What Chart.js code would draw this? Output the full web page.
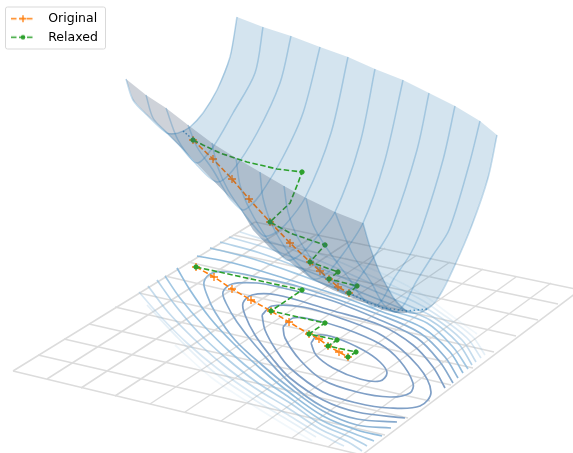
<!DOCTYPE html>
<html>
<head>
<meta charset="utf-8">
<title>Original vs Relaxed</title>
<script src="https://cdn.jsdelivr.net/npm/chart.js@4"></script>
<style>
  html, body { margin: 0; padding: 0; background: #fff; }
  canvas { display: block; }
</style>
</head>
<body>
<canvas id="myChart" width="573" height="453"></canvas>
<script>
var legendLabels = ["Original", "Relaxed"];

// floor grid: four edges, with matching indexes on opposite sides
var floorLeft = [[13,371],[38,355],[64,339],[89,324],[115,307],[139,293],[165,276],[188,262],[210,248],[233,235],[255,222]];
var floorRight = [[362,455],[385,435],[408,418],[430,401],[451,385],[473,368],[494,352],[516,336],[538,320],[558,304],[580,290]];
var floorFront = [[13,371],[47,379],[81,388],[115,396],[150,404],[185,412],[221,421],[256,429],[292,438],[328,447],[362,455]];
var floorBack = [[255,222],[285,228],[317,234],[350,241],[385,248],[417,255],[450,262],[483,269],[516,277],[551,283],[580,290]];

// closed rings around the minimum
var ring1 = [[311,343],[316,355],[333,368],[360,379],[380,381],[387,373],[380,362],[363,350],[336,338],[318,335],[311,343]];
var ring2 = [[283,327],[285,338],[300,360],[323,380],[357,392],[390,397],[410,393],[413,383],[400,361],[380,344],[343,328],[310,319],[293,318],[283,327]];
var ring3 = [[262,315],[265,330],[276,350],[290,368],[323,392],[357,403],[390,408],[420,406],[431,392],[418,366],[383,336],[340,318],[303,307],[272,306],[262,315]];

// outer rings are cut by the floor edges
var ring4 = [[405,418],[357,412],[323,400],[290,378],[272,358],[255,335],[245,315],[243,303],[252,295],[277,295],[330,310],[380,325],[413,345],[433,367],[445,388]];
var ring5 = [[397,422],[357,419],[323,407],[290,383],[255,345],[237,322],[226,303],[223,292],[232,284],[257,283],[283,288],[330,300],[380,320],[417,338],[440,362],[453,383]];
var ring6 = [[391,428],[357,425],[323,411],[290,388],[262,365],[235,340],[215,312],[207,295],[204,282],[212,273],[230,272],[257,277],[300,287],[380,315],[420,333],[445,357],[458,378]];
var ring7Low = [[177,268],[190,290],[210,318],[233,343],[262,370],[290,393],[323,416],[357,430],[382,436]];
var ring7Up = [[197,256],[233,263],[290,280],[340,296],[380,311],[423,328],[450,352],[463,373]];
var ring8Low = [[165,276],[180,298],[203,325],[230,352],[260,377],[290,398],[323,421],[355,434],[374,441]];
var ring8Up = [[210,248],[250,258],[300,275],[345,292],[390,310],[427,323],[453,347],[468,369]];
var ring9Low = [[157,280],[175,305],[198,332],[226,358],[258,383],[290,403],[322,425],[350,437],[367,446]];
var ring9Up = [[220,242],[260,253],[305,270],[350,288],[400,308],[430,320],[458,343],[472,365]];
var ring10Low = [[148,286],[168,312],[193,338],[222,364],[255,388],[288,408],[320,429],[348,442],[362,451]];
var ring10Up = [[229,237],[270,249],[315,266],[360,285],[412,307],[433,317],[462,340],[476,362]];
var ring11Low = [[139,292],[160,316],[187,343],[218,369],[252,393],[285,413],[318,433],[344,446]];
var ring11Up = [[240,232],[280,245],[325,263],[370,283],[415,302],[437,315],[467,338],[481,358]];
var ring12Low = [[147,305],[180,340],[215,373],[250,397],[283,417],[316,437]];
var ring12Up = [[290,243],[335,260],[380,280],[420,299],[441,313],[472,336],[485,355]];
var ring13Low = [[175,345],[212,378],[248,402],[280,422],[312,441]];
var ring13Up = [[345,258],[390,277],[425,296],[445,311],[477,334]];

// surface outlines
var wallOutline = [[237,17],[263,27],[291,36],[320,47],[348,57],[375,69],[403,80],[429,93],[455,106],[480,121],[497,135],[488,178],[472,225],[455,265],[440,295],[426,310],[407,313],[396,313],[383,310],[350,297],[333,290],[310,278],[290,262],[270,248],[253,230],[240,208],[203,170],[167,133],[178,133],[190,127],[203,113],[217,90],[230,57],[237,17]];
var frontOutline = [[126,79],[146,95],[166,108],[188,125],[212,143],[236,158],[260,172],[284,186],[306,198],[335,212],[363,223],[370,247],[380,273],[393,297],[407,311],[407,313],[396,313],[383,310],[350,297],[333,290],[310,278],[290,262],[270,248],[253,230],[240,208],[203,170],[167,133],[147,115],[133,100],[126,79]];

// surface mesh, back rim -> valley -> front rim
var mesh0 = [[237,17],[230,57],[217,90],[203,113],[190,127],[178,133],[167,133],[147,115],[133,100],[126,79]];
var mesh1 = [[263,27],[255,73],[233,113],[213,147],[197,163],[180,146],[165,131],[153,118],[146,95]];
var mesh2 = [[291,36],[280,83],[257,133],[233,170],[217,182],[196,164],[178,140],[166,108]];
var mesh3 = [[320,47],[303,113],[283,157],[260,195],[250,206],[243,210],[235,204],[228,196],[213,170],[197,147],[188,125]];
var mesh4 = [[348,57],[331,133],[305,198],[285,225],[273,234],[264,236],[254,226],[245,215],[228,190],[217,165],[212,143]];
var mesh5 = [[375,69],[360,143],[335,212],[310,245],[297,257],[287,260],[277,250],[268,240],[250,210],[240,185],[236,158]];
var mesh6 = [[403,80],[385,160],[363,223],[340,258],[325,275],[314,279],[302,268],[290,255],[272,225],[263,198],[260,172]];
var mesh7 = [[429,93],[417,150],[392,227],[380,248],[360,277],[350,290],[343,293],[330,283],[318,268],[298,238],[288,212],[284,186]];
var mesh8 = [[455,106],[443,160],[423,225],[411,253],[393,280],[382,300],[373,307],[360,295],[350,280],[328,250],[313,225],[306,198]];
var mesh9 = [[480,121],[469,165],[449,230],[433,255],[416,282],[405,303],[396,312],[384,305],[371,282],[353,255],[340,225],[335,212]];
var mesh10 = [[497,135],[488,178],[472,225],[455,265],[440,295],[426,310],[410,313],[400,306],[393,297],[380,273],[370,247],[363,223]];

// dotted valley line
var valleyEnd = [[349,293],[367,302],[383,308],[407,311],[427,309]];
var valleyStart = [[183,131],[190,137]];

// paths on the floor
var floorOriginal = [[196,267],[214,277],[232,289],[251,300],[271,311],[289,322],[309,334],[319,339],[328,346],[339,352],[348,357]];
var floorRelaxed = [[196,267],[302,290],[271,311],[325,323],[309,334],[337,340],[328,346],[356,352],[348,357]];

// paths on the surface
var surfaceOriginal = [[193,140],[213,159],[232,179],[249,199],[270,222],[290,243],[310,262],[320,271],[329,279],[338,287],[349,293]];
var surfaceRelaxedPath = [[193,140],[203,145],[220,153],[247,162],[277,169],[302,172],[298,183],[290,203],[270,222],[290,233],[310,240],[325,245],[310,262],[338,272],[329,279],[357,286],[349,293]];
var surfaceRelaxedDots = [[193,140],[302,172],[270,222],[325,245],[310,262],[338,272],[329,279],[357,286],[349,293]];

var ORANGE = "#ff7f0e";
var GREEN = "#2ca02c";
var DASH = [5.5, 2.5];

var datasets = [];
function add(data, style) {
  // later entries sit on top
  var ds = Object.assign({
    data: data,
    showLine: true,
    pointRadius: 0,
    borderWidth: 1.5,
    fill: false,
    tension: 0,
    order: -datasets.length
  }, style);
  datasets.push(ds);
}

floorLeft.forEach(function(p, i) {
  add([p, floorRight[i]], { borderColor: "#dcdcdc", borderWidth: 1.5 });
  add([floorFront[i], floorBack[i]], { borderColor: "#dcdcdc", borderWidth: 1.5 });
});

[ring1, ring2, ring3, ring4].forEach(function(r) {
  add(r, { borderColor: "#7f9fc6", borderWidth: 1.7, tension: 0.35 });
});
add(ring5, { borderColor: "#86a9cd", borderWidth: 1.7, tension: 0.35 });
add(ring6, { borderColor: "#8fb5d6", borderWidth: 1.7, tension: 0.35 });
[[ring7Low, ring7Up, "rgba(140,184,218,0.95)"],
 [ring8Low, ring8Up, "rgba(140,186,220,0.8)"],
 [ring9Low, ring9Up, "rgba(140,186,220,0.65)"],
 [ring10Low, ring10Up, "rgba(140,186,220,0.5)"],
 [ring11Low, ring11Up, "rgba(140,186,220,0.35)"],
 [ring12Low, ring12Up, "rgba(140,186,220,0.22)"],
 [ring13Low, ring13Up, "rgba(140,186,220,0.12)"]].forEach(function(r) {
  add(r[0], { borderColor: r[2], borderWidth: 1.7, tension: 0.35 });
  add(r[1], { borderColor: r[2], borderWidth: 1.7, tension: 0.35 });
});

add(floorOriginal, {
  label: legendLabels[0], borderColor: ORANGE, borderDash: DASH, borderWidth: 1.6,
  pointStyle: "cross", pointRadius: 4, pointBorderColor: ORANGE, pointBorderWidth: 1.3
});
add(floorRelaxed, {
  label: legendLabels[1], borderColor: GREEN, borderDash: DASH, borderWidth: 1.6,
  pointStyle: "circle", pointRadius: 2.2, pointBackgroundColor: GREEN, pointBorderColor: GREEN, pointBorderWidth: 1
});

add(wallOutline, { borderWidth: 0, fill: "shape", backgroundColor: "rgba(40,118,175,0.2)" });

add(valleyStart, { borderColor: "rgba(31,119,180,0.8)", borderDash: [1.5, 2] });
add(valleyEnd, { borderColor: "rgba(31,119,180,0.7)", borderDash: [1.5, 2.5] });

add(surfaceOriginal, {
  borderColor: ORANGE, borderDash: DASH, borderWidth: 1.6,
  pointStyle: "cross", pointRadius: 4, pointBorderColor: ORANGE, pointBorderWidth: 1.3
});
add(surfaceRelaxedPath, { borderColor: GREEN, borderDash: DASH, borderWidth: 1.6 });
add(surfaceRelaxedDots, {
  showLine: false, pointStyle: "circle", pointRadius: 2.2,
  pointBackgroundColor: GREEN, pointBorderColor: GREEN, pointBorderWidth: 1
});

add(frontOutline, { borderWidth: 0, fill: "shape", backgroundColor: "rgba(60,75,105,0.25)" });

[mesh0, mesh1, mesh2, mesh3, mesh4, mesh5, mesh6, mesh7, mesh8, mesh9, mesh10].forEach(function(m) {
  add(m, { borderColor: "rgba(31,119,180,0.28)", tension: 0.3 });
});

// small canvases used as legend keys
function legendKey(color, drawMarker) {
  var c = document.createElement("canvas");
  c.width = 24;
  c.height = 9;
  var k = c.getContext("2d");
  k.strokeStyle = color;
  k.fillStyle = color;
  k.lineWidth = 1.5;
  k.setLineDash(DASH);
  k.beginPath();
  k.moveTo(0, 4.5);
  k.lineTo(24, 4.5);
  k.stroke();
  k.setLineDash([]);
  drawMarker(k);
  return c;
}
var plusKey = legendKey(ORANGE, function(k) {
  k.lineWidth = 1.3;
  k.beginPath();
  k.moveTo(8.5, 4.5); k.lineTo(15.5, 4.5);
  k.moveTo(12, 1); k.lineTo(12, 8);
  k.stroke();
});
var dotKey = legendKey(GREEN, function(k) {
  k.beginPath();
  k.arc(12, 4.5, 2.3, 0, Math.PI * 2);
  k.fill();
});

var legendFrame = {
  id: "legendFrame",
  afterLayout: function(chart) {
    chart.legend.top = 6.5;
    chart.legend.left = -2;
  },
  beforeDraw: function(chart) {
    var c = chart.ctx;
    c.save();
    c.strokeStyle = "#d9d9d9";
    c.fillStyle = "rgba(255,255,255,0.8)";
    c.lineWidth = 1;
    c.beginPath();
    c.roundRect(5.5, 7, 100, 42, 2);
    c.fill();
    c.stroke();
    c.restore();
  }
};

var ctx = document.getElementById("myChart").getContext("2d");
var myChart = new Chart(ctx, {
  type: "scatter",
  data: { datasets: datasets },
  plugins: [legendFrame],
  options: {
    responsive: false,
    animation: false,
    layout: { padding: 0, autoPadding: false },
    events: [],
    scales: {
      x: { type: "linear", min: 0, max: 573, display: false },
      y: { type: "linear", min: 0, max: 453, reverse: true, display: false }
    },
    plugins: {
      tooltip: { enabled: false },
      legend: {
        position: "chartArea",
        align: "start",
        labels: {
          usePointStyle: true,
          pointStyleWidth: 38,
          padding: 6,
          color: "#000",
          font: { family: "'DejaVu Sans'", size: 12.5 },
          generateLabels: function() {
            return [
              { text: legendLabels[0], pointStyle: plusKey, hidden: false, lineWidth: 0 },
              { text: legendLabels[1], pointStyle: dotKey, hidden: false, lineWidth: 0 }
            ];
          }
        }
      }
    }
  }
});
</script>
</body>
</html>
